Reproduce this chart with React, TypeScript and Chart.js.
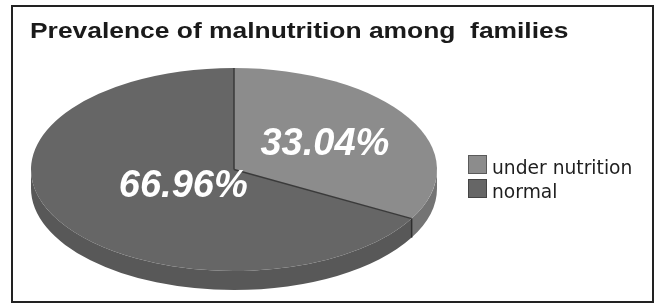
import { useEffect, useRef } from "react";
import { Chart, registerables } from "chart.js";

Chart.register(...registerables);

const TITLE = "Prevalence of malnutrition among  families";
const CATEGORIES = ["under nutrition", "normal"];
const VALUES = [33.04, 66.96];
const VALUE_LABELS = ["33.04%", "66.96%"];

const TOP_COLORS = ["#8c8c8c", "#666666"];
const SIDE_COLORS = ["#747474", "#585858"];
const EDGE_COLORS = ["#5a5a5a", "#444444"];
const LABEL_RADIUS = [0.52, 0.29];
const DEPTH = 19;

function geom(chart: any) {
  const a = chart.chartArea;
  const rx = (a.right - a.left) / 2;
  const ry = (a.bottom - a.top - DEPTH) / 2;
  return { cx: (a.left + a.right) / 2, cy: a.top + ry, rx, ry };
}

function frontRanges(s: number, e: number) {
  const out: [number, number][] = [];
  for (const k of [-2 * Math.PI, 0, 2 * Math.PI]) {
    const a = Math.max(s + k, 0);
    const b = Math.min(e + k, Math.PI);
    if (b > a) out.push([a, b]);
  }
  return out;
}

const pie3d = {
  id: "pie3d",
  beforeDraw(chart: any) {
    const ctx = chart.ctx;
    ctx.save();
    ctx.fillStyle = "#ffffff";
    ctx.fillRect(0, 0, chart.width, chart.height);
    ctx.strokeStyle = "#222222";
    ctx.lineWidth = 2;
    ctx.strokeRect(12, 6, 641, 296);
    // title
    ctx.translate(30, 38);
    ctx.scale(1.2, 1);
    ctx.font = "bold 22px 'Liberation Sans', Arial, sans-serif";
    ctx.fillStyle = "#1a1a1a";
    ctx.textAlign = "left";
    ctx.textBaseline = "alphabetic";
    ctx.fillText(TITLE, 0, 0);
    ctx.restore();
  },
  beforeDatasetsDraw(chart: any) {
    const ctx = chart.ctx;
    const g = geom(chart);
    const meta = chart.getDatasetMeta(0);
    ctx.save();
    meta.data.forEach((el: any, i: number) => {
      for (const [a, b] of frontRanges(el.startAngle, el.endAngle)) {
        ctx.beginPath();
        ctx.ellipse(g.cx, g.cy, g.rx, g.ry, 0, a, b, false);
        ctx.ellipse(g.cx, g.cy + DEPTH, g.rx, g.ry, 0, b, a, true);
        ctx.closePath();
        ctx.fillStyle = SIDE_COLORS[i];
        ctx.fill();
      }
    });
    meta.data.forEach((el: any) => {
      const n = ((el.startAngle % (2 * Math.PI)) + 2 * Math.PI) % (2 * Math.PI);
      if (n > 0 && n < Math.PI) {
        const x = g.cx + g.rx * Math.cos(n);
        const y = g.cy + g.ry * Math.sin(n);
        ctx.beginPath();
        ctx.moveTo(x, y);
        ctx.lineTo(x, y + DEPTH);
        ctx.strokeStyle = "#2e2e2e";
        ctx.lineWidth = 1.5;
        ctx.stroke();
      }
    });
    ctx.restore();

    const el0 = meta.data[0];
    const r0 = el0.outerRadius;
    ctx.save();
    ctx.translate(g.cx, g.cy);
    ctx.scale(g.rx / r0, g.ry / r0);
    ctx.translate(-el0.x, -el0.y);
  },
  afterDatasetsDraw(chart: any) {
    const ctx = chart.ctx;
    ctx.restore();
    const g = geom(chart);
    const meta = chart.getDatasetMeta(0);

    ctx.save();
    ctx.strokeStyle = "#3a3a3a";
    ctx.lineWidth = 1.5;
    meta.data.forEach((el: any) => {
      ctx.beginPath();
      ctx.moveTo(g.cx, g.cy);
      ctx.lineTo(g.cx + g.rx * Math.cos(el.startAngle), g.cy + g.ry * Math.sin(el.startAngle));
      ctx.stroke();
    });
    ctx.restore();

    ctx.save();
    ctx.font = "italic bold 38px 'Liberation Sans', Arial, sans-serif";
    ctx.fillStyle = "#ffffff";
    ctx.textAlign = "center";
    ctx.textBaseline = "middle";
    meta.data.forEach((el: any, i: number) => {
      const mid = (el.startAngle + el.endAngle) / 2;
      const x = g.cx + g.rx * LABEL_RADIUS[i] * Math.cos(mid);
      const y = g.cy + g.ry * LABEL_RADIUS[i] * Math.sin(mid) + 2;
      ctx.fillText(VALUE_LABELS[i], x, y);
    });
    ctx.restore();

    ctx.save();
    ctx.font = "18.7px 'DejaVu Sans', sans-serif";
    ctx.textBaseline = "alphabetic";
    ctx.textAlign = "left";
    CATEGORIES.forEach((label, i) => {
      const y = 155 + i * 24;
      ctx.fillStyle = TOP_COLORS[i];
      ctx.fillRect(468, y, 19, 19);
      ctx.strokeStyle = EDGE_COLORS[i];
      ctx.lineWidth = 1;
      ctx.strokeRect(468.5, y + 0.5, 18, 18);
      ctx.fillStyle = "#1e1e1e";
      ctx.fillText(label, 492, y + 19);
    });
    ctx.restore();
  },
};

export default function App() {
  const ref = useRef<HTMLCanvasElement | null>(null);
  useEffect(() => {
    if (!ref.current) return;
    const chart = new Chart(ref.current, {
      type: "pie",
      data: {
        labels: CATEGORIES,
        datasets: [
          {
            data: VALUES,
            backgroundColor: TOP_COLORS,
            borderWidth: 0,
            clip: false,
          } as any,
        ],
      },
      options: {
        responsive: false,
        animation: false,
        devicePixelRatio: 1,
        events: [],
        layout: { padding: { left: 31, right: 220, top: 68, bottom: 15 } },
        plugins: {
          legend: { display: false },
          tooltip: { enabled: false },
          title: { display: false },
        },
      },
      plugins: [pie3d],
    });
    return () => chart.destroy();
  }, []);
  return (
    <div style={{ position: "fixed", left: 0, top: 0, width: 657, height: 305, background: "#fff" }}>
      <canvas ref={ref} width={657} height={305} style={{ display: "block", width: 657, height: 305 }} />
    </div>
  );
}
